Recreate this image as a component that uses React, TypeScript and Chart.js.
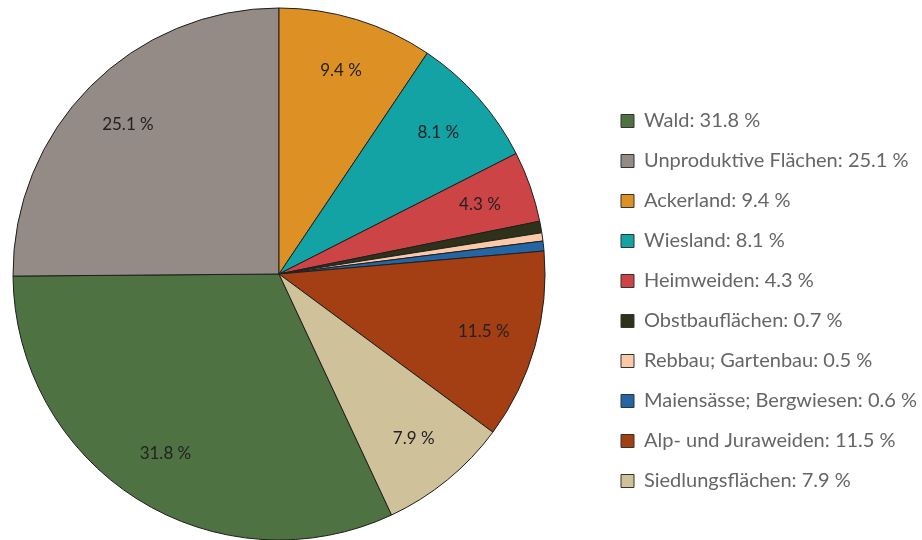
import React, { useEffect, useRef } from "react";
import { Chart, registerables } from "chart.js";

Chart.register(...registerables);

const categories = [
  "Wald",
  "Unproduktive Flächen",
  "Ackerland",
  "Wiesland",
  "Heimweiden",
  "Obstbauflächen",
  "Rebbau; Gartenbau",
  "Maiensässe; Bergwiesen",
  "Alp- und Juraweiden",
  "Siedlungsflächen",
];
const shares = [31.8, 25.1, 9.4, 8.1, 4.3, 0.7, 0.5, 0.6, 11.5, 7.9];
const colors = [
  "#4e7241",
  "#958b86",
  "#dd9125",
  "#13a3a5",
  "#cc4446",
  "#2e321b",
  "#fbc9a7",
  "#2465a4",
  "#a43f14",
  "#cfc29b",
];
// slices starting at 12 o'clock: Ackerland first (Wald + Unproduktive lie before it)
const slicesBeforeTop = 2;
const minLabelShare = 1;

const FONT = "Lato, 'Open Sans', sans-serif";
const SHIFT = 43;

const sliceLabels = {
  id: "sliceLabels",
  afterDatasetsDraw(chart: any) {
    const ctx = chart.ctx;
    const meta = chart.getDatasetMeta(0);
    ctx.save();
    ctx.font = `17px ${FONT}`;
    ctx.fillStyle = "#222222";
    ctx.textAlign = "center";
    ctx.textBaseline = "middle";
    meta.data.forEach((arc: any, i: number) => {
      const v = shares[i];
      if (v < minLabelShare) return;
      const { x, y, startAngle, endAngle, outerRadius } = arc.getProps(
        ["x", "y", "startAngle", "endAngle", "outerRadius"],
        true
      );
      const mid = (startAngle + endAngle) / 2;
      const r = outerRadius * 0.8;
      ctx.fillText(`${v.toFixed(1)} %`, x + Math.cos(mid) * r, y + Math.sin(mid) * r);
    });
    ctx.restore();
  },
};

export default function App() {
  const ref = useRef<HTMLCanvasElement>(null);
  useEffect(() => {
    document.body.style.margin = "0";
    const total = shares.reduce((a, b) => a + b, 0);
    const before = shares.slice(0, slicesBeforeTop).reduce((a, b) => a + b, 0);
    const chart = new Chart(ref.current as HTMLCanvasElement, {
      type: "pie",
      data: {
        labels: categories,
        datasets: [
          {
            data: shares,
            backgroundColor: colors,
            borderColor: "#1e1e1e",
            borderWidth: 1,
          },
        ],
      },
      options: {
        animation: false,
        responsive: false,
        devicePixelRatio: 1,
        rotation: (-360 * before) / total,
        radius: 266,
        layout: { padding: { top: 8, bottom: 0, left: 0, right: 0 } },
        plugins: {
          tooltip: { enabled: false },
          legend: {
            position: "right",
            align: "center",
            maxWidth: 321,
            title: {
              display: true,
              text: "",
              font: { size: 10, lineHeight: 1 },
              padding: { top: 44, bottom: 0 },
            },
            labels: {
              boxWidth: 13,
              boxHeight: 13,
              padding: 20,
              color: "#1a1a1a",
              font: { family: FONT, size: 20 },
              generateLabels: () =>
                categories.map((c, i) => ({
                  text: `${c}: ${shares[i].toFixed(1)} %`,
                  fillStyle: colors[i],
                  strokeStyle: "#333333",
                  lineWidth: 1,
                  hidden: false,
                  index: i,
                })),
            },
          },
        },
      },
      plugins: [sliceLabels],
    });
    return () => chart.destroy();
  }, []);
  return (
    <div
      style={{
        position: "absolute",
        left: 0,
        top: 0,
        width: 922,
        height: 540,
        overflow: "hidden",
        background: "#fff",
      }}
    >
      <canvas
        ref={ref}
        width={922 + SHIFT}
        height={540}
        style={{ position: "absolute", left: -SHIFT, top: 0 }}
      />
    </div>
  );
}
